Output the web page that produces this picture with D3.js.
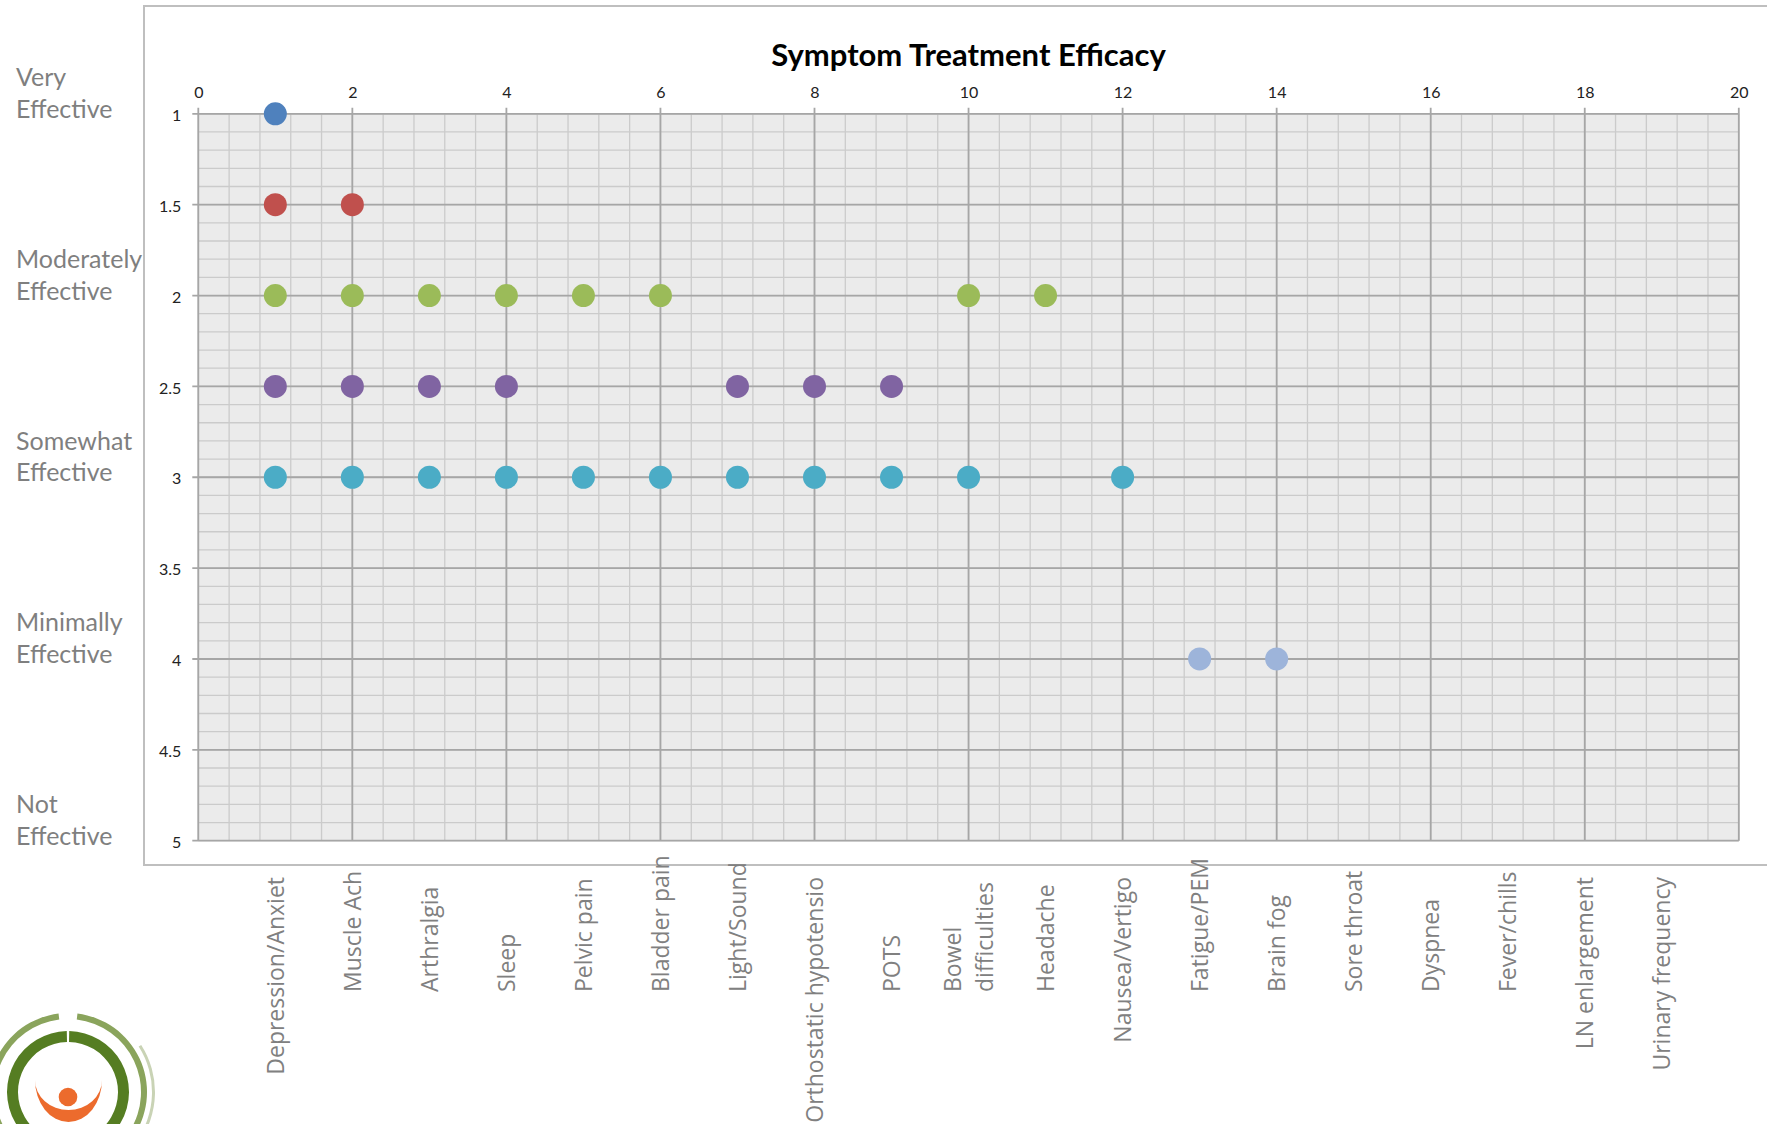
<!DOCTYPE html>
<html>
<head>
<meta charset="utf-8">
<script src="https://cdn.jsdelivr.net/npm/d3@7"></script>
<style>
  html, body { margin: 0; padding: 0; background: #ffffff; }
  svg { display: block; }
</style>
</head>
<body>
<svg id="chart" width="1767" height="1124"></svg>
<script>
// ---------------- DATA ----------------
const categories = [
  "Depression/Anxiet", "Muscle Ach", "Arthralgia", "Sleep", "Pelvic pain",
  "Bladder pain", "Light/Sound", "Orthostatic hypotensio", "POTS",
  "Bowel\ndifficulties", "Headache", "Nausea/Vertigo", "Fatigue/PEM",
  "Brain fog", "Sore throat", "Dyspnea", "Fever/chills", "LN enlargement",
  "Urinary frequency"
];
const xTicks = [0, 2, 4, 6, 8, 10, 12, 14, 16, 18, 20];
const yTicks = [1, 1.5, 2, 2.5, 3, 3.5, 4, 4.5, 5];
const yTickLabels = ["1", "1.5", "2", "2.5", "3", "3.5", "4", "4.5", "5"];

const levelValues = [1, 2, 3, 4, 5];
const levelLabels = [
  ["Very", "Effective"],
  ["Moderately", "Effective"],
  ["Somewhat", "Effective"],
  ["Minimally", "Effective"],
  ["Not", "Effective"]
];

// series: x positions (category index) at each efficacy value
const seriesY = [1, 1.5, 2, 2.5, 3, 4];
const series1_0 = [1];
const series1_5 = [1, 2];
const series2_0 = [1, 2, 3, 4, 5, 6, 10, 11];
const series2_5 = [1, 2, 3, 4, 7, 8, 9];
const series3_0 = [1, 2, 3, 4, 5, 6, 7, 8, 9, 10, 12];
const series4_0 = [13, 14];
const seriesColors = ["#4f81bd", "#c0504d", "#9bbb59", "#8064a2", "#4bacc6", "#9db4da"];

const seriesList = [series1_0, series1_5, series2_0, series2_5, series3_0, series4_0];

// ---------------- LAYOUT ----------------
const svg = d3.select("#chart");

const x = d3.scaleLinear().domain([0, 20]).range([198.3, 1738.8]);
const y = d3.scaleLinear().domain([1, 5]).range([113.8, 840.7]);

// outer chart-area box
svg.append("rect")
  .attr("x", 144).attr("y", 6)
  .attr("width", 1700).attr("height", 859)
  .attr("fill", "#ffffff")
  .attr("stroke", "#bfbfbf").attr("stroke-width", 2);

// plot background
svg.append("rect")
  .attr("x", x(0)).attr("y", y(1))
  .attr("width", x(20) - x(0)).attr("height", y(5) - y(1))
  .attr("fill", "#ebebeb");

const grid = svg.append("g");
// minor grid
const xMinor = d3.range(0, 51).map(i => i * 0.4);
const yMinor = d3.range(0, 41).map(i => 1 + i * 0.1);
grid.selectAll(".xm").data(xMinor).join("line")
  .attr("x1", d => x(d)).attr("x2", d => x(d))
  .attr("y1", y(1)).attr("y2", y(5))
  .attr("stroke", "#cbcbcb").attr("stroke-width", 1.3);
grid.selectAll(".ym").data(yMinor).join("line")
  .attr("x1", x(0)).attr("x2", x(20))
  .attr("y1", d => y(d)).attr("y2", d => y(d))
  .attr("stroke", "#cbcbcb").attr("stroke-width", 1.3);

// major grid
grid.selectAll(".xM").data(xTicks).join("line")
  .attr("x1", d => x(d)).attr("x2", d => x(d))
  .attr("y1", y(1) - 6).attr("y2", y(5))
  .attr("stroke", "#a6a6a6").attr("stroke-width", 1.8);
grid.selectAll(".yM").data(yTicks).join("line")
  .attr("x1", x(0) - 6).attr("x2", x(20))
  .attr("y1", d => y(d)).attr("y2", d => y(d))
  .attr("stroke", "#a6a6a6").attr("stroke-width", 1.8);

// axes labels via d3 axis
const xAxis = d3.axisTop(x).tickValues(xTicks).tickSize(0).tickPadding(16).tickFormat(d3.format("d"));
const gx = svg.append("g").attr("transform", `translate(0,${y(1)})`).call(xAxis);
gx.select(".domain").remove();
gx.selectAll("text").attr("font-family", "Lato, 'Open Sans', sans-serif")
  .attr("font-size", 16).attr("fill", "#222");

const yAxis = d3.axisLeft(y).tickValues(yTicks).tickSize(0).tickPadding(17)
  .tickFormat((d, i) => yTickLabels[i]);
const gy = svg.append("g").attr("transform", `translate(${x(0)},0)`).call(yAxis);
gy.select(".domain").remove();
gy.selectAll("text").attr("font-family", "Lato, 'Open Sans', sans-serif")
  .attr("font-size", 16).attr("fill", "#222").attr("dy", "0.42em");

// title
svg.append("text")
  .attr("x", (x(0) + x(20)) / 2).attr("y", 66)
  .attr("text-anchor", "middle")
  .attr("font-family", "Lato, sans-serif").attr("font-weight", 700)
  .attr("font-size", 31).attr("fill", "#000")
  .text("Symptom Treatment Efficacy");

// efficacy level labels on the left
const lv = svg.append("g");
levelValues.forEach((v, i) => {
  const t = lv.append("text")
    .attr("font-family", "Lato, sans-serif").attr("font-size", 25)
    .attr("fill", "#7f7f7f");
  t.append("tspan").attr("x", 16).attr("y", y(v) + 4 - 31.5).text(levelLabels[i][0]);
  t.append("tspan").attr("x", 16).attr("y", y(v) + 4).text(levelLabels[i][1]);
});

// points
const pts = svg.append("g");
seriesList.forEach((arr, si) => {
  pts.selectAll(null).data(arr).join("circle")
    .attr("cx", d => x(d)).attr("cy", y(seriesY[si]))
    .attr("r", 11.5)
    .attr("fill", seriesColors[si]);
});

// category labels (rotated)
const catG = svg.append("g");
const bottomStart = 992, topEnd = 877, lineGap = 31.5;
categories.forEach((c, i) => {
  const lines = c.split("\n");
  const cx = x(i + 1);
  lines.forEach((ln, li) => {
    const off = (li - (lines.length - 1) / 2) * lineGap;
    const t = catG.append("text")
      .attr("font-family", "'Open Sans', sans-serif").attr("font-size", 23)
      .attr("fill", "#808080")
      .attr("dy", "0.36em")
      .text(ln);
    const len = t.node().getComputedTextLength();
    if (lines.length === 1 && len > 145) {
      t.attr("text-anchor", "end")
        .attr("transform", `translate(${cx + off},${topEnd}) rotate(-90)`);
    } else {
      t.attr("text-anchor", "start")
        .attr("transform", `translate(${cx + off},${bottomStart}) rotate(-90)`);
    }
  });
});

// logo (bottom-left, partially visible)
const logo = svg.append("g").attr("transform", "translate(68,1092)");
const arc = d3.arc();
logo.append("path").attr("d", arc({innerRadius: 73, outerRadius: 79, startAngle: 0.12, endAngle: 2 * Math.PI - 0.12}))
  .attr("fill", "#8aa45c");
logo.append("path").attr("d", arc({innerRadius: 84, outerRadius: 87, startAngle: 1.0, endAngle: 2.2}))
  .attr("fill", "#c9d3b5");
logo.append("path").attr("d", arc({innerRadius: 50, outerRadius: 61, startAngle: 0.02, endAngle: 2 * Math.PI - 0.02}))
  .attr("fill", "#557d22");
logo.append("path")
  .attr("d", "M -33,-12 A 33.5 42 0 0 0 34,-12 A 33.5 30 0 0 1 -33,-12 Z")
  .attr("fill", "#ec6b2d");
logo.append("circle").attr("cx", 0).attr("cy", 5).attr("r", 9.3).attr("fill", "#ec6b2d");
</script>
</body>
</html>
